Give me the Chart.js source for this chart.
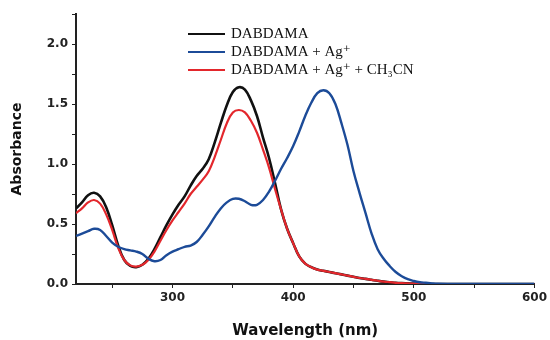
<!DOCTYPE html>
<html>
<head>
<meta charset="utf-8">
<script src="https://cdn.jsdelivr.net/npm/chart.js@4/dist/chart.umd.min.js"></script>
<style>
  html, body { margin: 0; padding: 0; background: #fff; }
  #wrap { width: 550px; height: 340px; }
</style>
</head>
<body>
<div id="wrap"><canvas id="chart" width="550" height="340"></canvas></div>
<script>
// wavelength grid (nm) and absorbance
const wavelengths = [
  220, 225, 230, 235, 240, 245, 250, 255, 260, 265,
  270, 275, 280, 285, 290, 295, 300, 305, 310, 315,
  320, 325, 330, 335, 340, 345, 350, 355, 360, 365,
  370, 375, 380, 385, 390, 395, 400, 405, 410, 415,
  420, 425, 430, 435, 440, 445, 450, 455, 460, 465,
  470, 475, 480, 485, 490, 495, 500, 505, 510, 515,
  520, 540, 560, 580, 600
];

const dabdama = [
  0.63, 0.68, 0.74, 0.76, 0.73, 0.64, 0.49, 0.32, 0.20, 0.15,
  0.14, 0.16, 0.21, 0.29, 0.39, 0.49, 0.58, 0.66, 0.73, 0.82,
  0.90, 0.96, 1.04, 1.18, 1.34, 1.49, 1.60, 1.64, 1.62, 1.53,
  1.40, 1.22, 1.05, 0.84, 0.62, 0.46, 0.34, 0.23, 0.17, 0.14,
  0.12, 0.11, 0.10, 0.09, 0.08, 0.07, 0.06, 0.05, 0.043, 0.035,
  0.027, 0.02, 0.015, 0.01, 0.007, 0.005, 0.003, 0.002, 0.001, 0,
  0, 0, 0, 0, 0
];

const dabdamaAg = [
  0.40, 0.42, 0.44, 0.46, 0.45, 0.40, 0.345, 0.31, 0.29, 0.28,
  0.27, 0.25, 0.21, 0.19, 0.20, 0.24, 0.27, 0.29, 0.31, 0.32,
  0.35, 0.41, 0.48, 0.56, 0.63, 0.68, 0.71, 0.71, 0.69, 0.66,
  0.66, 0.70, 0.77, 0.86, 0.96, 1.05, 1.15, 1.27, 1.40, 1.51,
  1.59, 1.615, 1.59, 1.50, 1.34, 1.16, 0.94, 0.76, 0.59, 0.42,
  0.29, 0.21, 0.15, 0.10, 0.065, 0.04, 0.025, 0.015, 0.01, 0.005,
  0.002, 0, 0, 0, 0
];

const dabdamaAgCn = [
  0.59, 0.63, 0.68, 0.70, 0.67, 0.58, 0.45, 0.30, 0.20, 0.155,
  0.145, 0.16, 0.20, 0.27, 0.36, 0.45, 0.53, 0.60, 0.67, 0.75,
  0.81, 0.87, 0.94, 1.06, 1.20, 1.34, 1.43, 1.45, 1.43, 1.36,
  1.26, 1.12, 0.97, 0.79, 0.62, 0.46, 0.34, 0.23, 0.17, 0.14,
  0.12, 0.11, 0.10, 0.09, 0.08, 0.07, 0.06, 0.05, 0.043, 0.035,
  0.027, 0.02, 0.015, 0.01, 0.007, 0.005, 0.003, 0.002, 0.001, 0,
  0, 0, 0, 0, 0
];

const seriesLabels = ['DABDAMA', 'DABDAMA + Ag⁺', 'DABDAMA + Ag⁺ + CH₃CN'];
const seriesColors = ['#111111', '#1c4b98', '#e3272c'];

const xTicks = [250, 300, 350, 400, 450, 500, 550, 600];
const xTickLabels = ['', '300', '', '400', '', '500', '', '600'];
const yTicks = [0, 0.25, 0.5, 0.75, 1.0, 1.25, 1.5, 1.75, 2.0, 2.25];
const yTickLabels = ['0.0', '', '0.5', '', '1.0', '', '1.5', '', '2.0', ''];

function points(ys) {
  return wavelengths.map((x, i) => ({ x: x, y: ys[i] }));
}

// legend drawn inside the plot, serif like the original
const innerLegend = {
  id: 'innerLegend',
  afterDatasetsDraw(chart) {
    const ctx = chart.ctx;
    ctx.save();
    ctx.font = '15px "Liberation Serif", "DejaVu Serif", serif';
    ctx.textBaseline = 'middle';
    ctx.fillStyle = '#111';
    seriesLabels.forEach((label, i) => {
      const y = 34 + i * 18;
      ctx.strokeStyle = seriesColors[i];
      ctx.lineWidth = 2;
      ctx.beginPath();
      ctx.moveTo(188, y);
      ctx.lineTo(225, y);
      ctx.stroke();
      ctx.fillText(label, 231, y);
    });
    ctx.restore();
  }
};

const tickFont = { family: '"DejaVu Sans", sans-serif', size: 12, weight: 'bold' };

const ctx = document.getElementById('chart').getContext('2d');
new Chart(ctx, {
  type: 'line',
  data: {
    datasets: [
      {
        label: seriesLabels[0],
        data: points(dabdama),
        borderColor: seriesColors[0],
        borderWidth: 2.6,
        order: 2
      },
      {
        label: seriesLabels[1],
        data: points(dabdamaAg),
        borderColor: seriesColors[1],
        borderWidth: 2.4,
        order: 0
      },
      {
        label: seriesLabels[2],
        data: points(dabdamaAgCn),
        borderColor: seriesColors[2],
        borderWidth: 2.2,
        order: 1
      }
    ]
  },
  options: {
    responsive: false,
    animation: false,
    elements: {
      point: { radius: 0 },
      line: { tension: 0.4, fill: false }
    },
    layout: { padding: { top: 14, right: 13, left: 0, bottom: 0 } },
    plugins: { legend: { display: false }, tooltip: { enabled: false } },
    scales: {
      x: {
        type: 'linear',
        min: 220,
        max: 600,
        afterBuildTicks: (scale) => { scale.ticks = xTicks.map(v => ({ value: v })); },
        afterFit: (scale) => { scale.height = 56; },
        border: { display: true, color: '#222', width: 2 },
        grid: { drawOnChartArea: false, drawTicks: true, tickLength: 4, color: '#222' },
        ticks: {
          autoSkip: false,
          maxRotation: 0,
          padding: 3,
          color: '#222',
          font: tickFont,
          callback: (value) => xTickLabels[xTicks.indexOf(value)]
        },
        title: {
          display: true,
          text: 'Wavelength (nm)',
          color: '#111',
          padding: { top: 0, bottom: 0 },
          font: { family: '"DejaVu Sans", sans-serif', size: 15, weight: 'bold' }
        }
      },
      y: {
        min: 0,
        max: 2.25,
        afterBuildTicks: (scale) => { scale.ticks = yTicks.map(v => ({ value: v })); },
        afterFit: (scale) => { scale.width = 76; },
        border: { display: true, color: '#222', width: 2 },
        grid: { drawOnChartArea: false, drawTicks: true, tickLength: 4, color: '#222' },
        ticks: {
          autoSkip: false,
          padding: 4,
          color: '#222',
          font: tickFont,
          callback: (value) => yTickLabels[yTicks.indexOf(value)]
        },
        title: {
          display: true,
          text: 'Absorbance',
          color: '#111',
          padding: { top: 9, bottom: 0 },
          font: { family: '"DejaVu Sans", sans-serif', size: 14, weight: 'bold' }
        }
      }
    }
  },
  plugins: [innerLegend]
});
</script>
</body>
</html>
